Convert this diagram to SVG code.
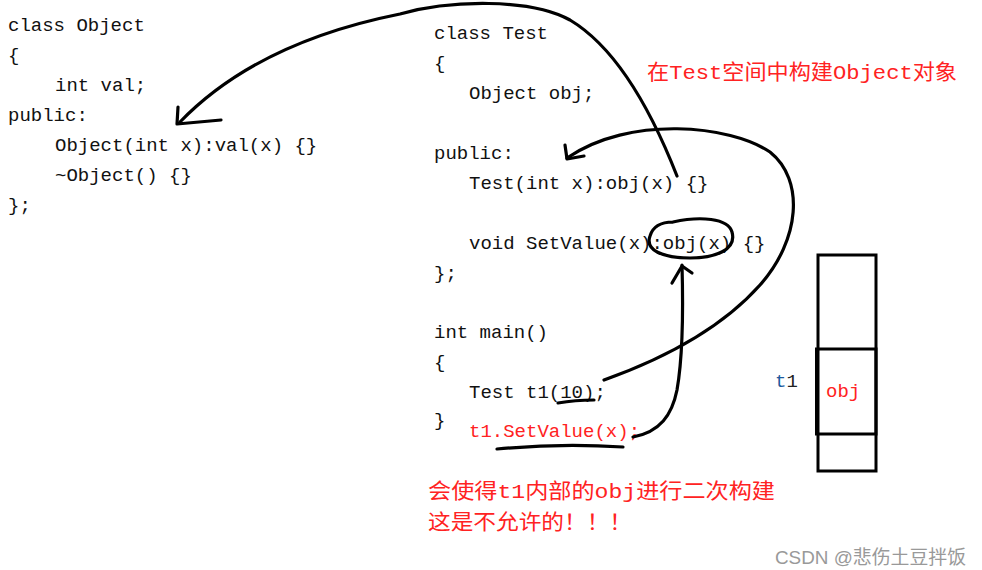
<svg xmlns="http://www.w3.org/2000/svg" width="982" height="570" viewBox="0 0 982 570">
<style>
.code{font-family:"Liberation Mono","DejaVu Sans Mono",monospace;font-size:19px;fill:#111;}
.red{fill:#f22;}
.cjk{font-family:"Liberation Mono","Noto Sans CJK SC",monospace;font-size:21px;fill:#f22;}
.ink{fill:none;stroke:#000;stroke-width:3.2;stroke-linecap:round;stroke-linejoin:round;}
.box{fill:none;stroke:#000;stroke-width:3;}
.wm{font-family:"Liberation Sans","Noto Sans CJK SC",sans-serif;font-size:19px;fill:#999;}
</style>
<rect width="982" height="570" fill="#fff"/>
<g id="object-class" class="code">
<text x="8" y="31">class Object</text>
<text x="8" y="61">{</text>
<text x="55" y="91">int val;</text>
<text x="8" y="121">public:</text>
<text x="55" y="151">Object(int x):val(x) {}</text>
<text x="55" y="181">~Object() {}</text>
<text x="8" y="211">};</text>
</g>
<g id="test-class" class="code">
<text x="434" y="39">class Test</text>
<text x="434" y="69">{</text>
<text x="469" y="99">Object obj;</text>
<text x="434" y="159">public:</text>
<text x="469" y="189">Test(int x):obj(x) {}</text>
<text x="469" y="249">void SetValue(x):obj(x) {}</text>
<text x="434" y="279">};</text>
</g>
<g id="main-func" class="code">
<text x="434" y="338">int main()</text>
<text x="434" y="368">{</text>
<text x="469" y="398">Test t1(10);</text>
<text x="434" y="426">}</text>
<text x="469" y="437" class="red">t1.SetValue(x);</text>
</g>
<g id="note-top">
<text x="647" y="79" class="cjk" textLength="310" lengthAdjust="spacingAndGlyphs">在Test空间中构建Object对象</text>
</g>
<g id="note-bottom">
<text x="428" y="498" class="cjk" textLength="347" lengthAdjust="spacingAndGlyphs">会使得t1内部的obj进行二次构建</text>
<text x="428" y="529" class="cjk" textLength="204" lengthAdjust="spacingAndGlyphs">这是不允许的！！！</text>
</g>
<g id="memory-box">
<rect class="box" x="818" y="255" width="58" height="216"/>
<rect class="box" x="816.5" y="349" width="59.5" height="85"/>
<text x="826" y="397" class="code red">obj</text>
<text x="775" y="387" class="code"><tspan fill="#1e5a9e">t</tspan><tspan fill="#222">1</tspan></text>
</g>
<g id="connectors">
<path class="ink" d="M 677 176 C 655 120, 620 50, 570 20 C 530 -2, 450 0, 400 14 C 320 30, 240 60, 180 122"/>
<path class="ink" d="M 178 107 L 177 124 L 221 120"/>
<path class="ink" d="M 604 380 C 660 360, 720 330, 760 285 C 800 240, 805 180, 770 152 C 730 125, 630 115, 567 158"/>
<path class="ink" d="M 565 145 L 567 159 L 584 156"/>
<path class="ink" d="M 633 437 C 660 432, 672 415, 677 390 C 684 350, 683 300, 682 265"/>
<path class="ink" d="M 672 283 L 682 266 L 692 273"/>
<path class="ink" d="M 673 222 C 700 216, 728 218, 732 232 C 737 250, 715 258, 690 258 C 662 258, 645 250, 650 236 C 653 226, 662 222, 673 222"/>
<path class="ink" d="M 558 403 Q 575 400 594 400"/>
<path class="ink" d="M 497 449 Q 560 443 623 447"/>
</g>
<text x="775" y="564" class="wm" textLength="191" lengthAdjust="spacingAndGlyphs">CSDN @悲伤土豆拌饭</text>
</svg>
